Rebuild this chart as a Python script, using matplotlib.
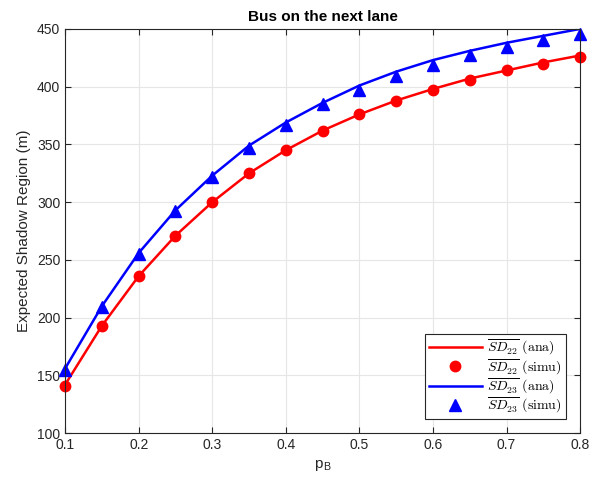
import numpy as np
import matplotlib
matplotlib.use('Agg')
from matplotlib import pyplot as plt

# данные
p_b = [0.1, 0.15, 0.2, 0.25, 0.3, 0.35, 0.4, 0.45, 0.5, 0.55, 0.6, 0.65, 0.7, 0.75, 0.8]
sd22_ana = [142, 193, 236, 271, 300, 325, 345, 362, 376, 388, 398, 407, 414, 421, 427]
sd22_simu = [141, 193, 236, 271, 300, 325, 345, 362, 376, 388, 397, 406, 414, 420, 426]
sd23_ana = [156, 210, 256, 293, 323, 349, 369, 386, 401, 413, 423, 431, 438, 444, 450]
sd23_simu = [155, 209, 255, 292, 322, 347, 367, 385, 397, 409, 419, 427, 434, 440, 446]

plt.rcParams['font.family'] = ['Liberation Sans', 'DejaVu Sans']
plt.rcParams['mathtext.fontset'] = 'cm'

fig = plt.figure(figsize=(5.92, 4.9), dpi=100, facecolor=(1, 1, 1))
ax = fig.add_axes([0.11, 0.116, 0.87, 0.825])

ax.plot(p_b, sd22_ana, color='red', lw=1.8, label=r'$\overline{SD_{22}}\ \mathrm{(ana)}$')
ax.plot(p_b, sd22_simu, 'o', color='red', ms=7.5, clip_on=False, label=r'$\overline{SD_{22}}\ \mathrm{(simu)}$')
ax.plot(p_b, sd23_ana, color='blue', lw=1.8, label=r'$\overline{SD_{23}}\ \mathrm{(ana)}$')
ax.plot(p_b, sd23_simu, '^', color='blue', ms=8, clip_on=False, label=r'$\overline{SD_{23}}\ \mathrm{(simu)}$')

ax.set_xlim(0.1, 0.8)
ax.set_ylim(100, 450)
ax.set_xticks(np.arange(0.1, 0.81, 0.1))
ax.set_yticks(np.arange(100, 451, 50))
ax.set_xticklabels(['0.1', '0.2', '0.3', '0.4', '0.5', '0.6', '0.7', '0.8'])
ax.tick_params(direction='in', top=True, right=True, labelsize=10, colors='#262626', length=4)
ax.grid(True, color='#e6e6e6', lw=0.8)
ax.set_axisbelow(True)
for s in ax.spines.values():
    s.set_color('#262626')
    s.set_linewidth(0.8)

ax.set_title('Bus on the next lane', fontsize=11, fontweight='bold', pad=6)
ax.set_xlabel(r'p$_\mathregular{B}$', fontsize=11, color='#262626')
ax.set_ylabel('Expected Shadow Region (m)', fontsize=11, color='#262626')

leg = ax.legend(loc='lower right', fontsize=10, fancybox=False, edgecolor='#262626',
                framealpha=1, borderaxespad=1.0, handlelength=3.8, labelspacing=0.0,
                borderpad=0.3, handletextpad=0.4)
leg.get_frame().set_linewidth(0.8)

plt.savefig('out.png', dpi=100)
plt.close()
